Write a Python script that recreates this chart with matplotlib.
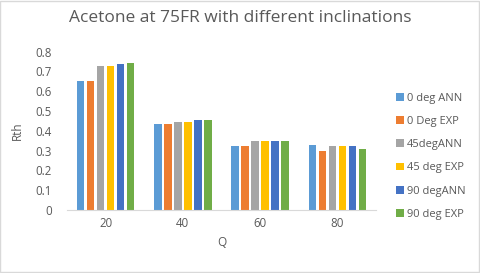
import numpy as np
import matplotlib
matplotlib.use('Agg')
import matplotlib.pyplot as plt
from matplotlib.patches import Rectangle

plt.rcParams['font.family'] = ['Open Sans', 'DejaVu Sans']

CATEGORIES = ['20', '40', '60', '80']
SERIES = ['0 deg ANN', '0 Deg EXP', '45degANN', '45 deg EXP', '90 degANN', '90 deg EXP']
VAL_0_ANN  = [0.652, 0.436, 0.323, 0.327]
VAL_0_EXP  = [0.652, 0.436, 0.323, 0.300]
VAL_45_ANN = [0.728, 0.446, 0.349, 0.323]
VAL_45_EXP = [0.727, 0.446, 0.349, 0.323]
VAL_90_ANN = [0.738, 0.455, 0.349, 0.323]
VAL_90_EXP = [0.741, 0.455, 0.349, 0.307]
COLORS = ['#5B9BD5', '#ED7D31', '#A5A5A5', '#FFC000', '#4472C4', '#70AD47']
TEXT = '#595959'

values = [VAL_0_ANN, VAL_0_EXP, VAL_45_ANN, VAL_45_EXP, VAL_90_ANN, VAL_90_EXP]

fig = plt.figure(figsize=(4.8, 2.73), dpi=100)
fig.patches.append(Rectangle((0.001, 0.002), 0.997, 0.995, transform=fig.transFigure,
                             fill=False, edgecolor='#D9D9D9', linewidth=1))
ax = fig.add_axes([67 / 480, 1 - 210 / 273, 309 / 480, 158.3 / 273])

x = np.arange(len(CATEGORIES))
pitch, width = 0.13, 0.097
for i, (name, vals, c) in enumerate(zip(SERIES, values, COLORS)):
    ax.bar(x + (i - 2.5) * pitch, vals, width, color=c, label=name)

ax.set_xlim(-0.5, len(CATEGORIES) - 0.5)
ax.set_ylim(0, 0.8)
ax.set_yticks(np.arange(0, 0.81, 0.1))
ax.set_yticklabels(['0' if v == 0 else f'{v:.1f}' for v in np.arange(0, 0.81, 0.1)])
ax.set_xticks(x)
ax.set_xticklabels(CATEGORIES)
ax.tick_params(length=0, labelsize=8.3, colors=TEXT, pad=5)
ax.tick_params(axis='y', pad=11)
for s in ['top', 'right', 'left']:
    ax.spines[s].set_visible(False)
ax.spines['bottom'].set_color('#D9D9D9')

ax.set_xlabel('Q', fontsize=8.5, color=TEXT, labelpad=4)
ax.set_ylabel('Rth', fontsize=8.5, color=TEXT, labelpad=8)
fig.text(0.5, 1 - 18 / 273, 'Acetone at 75FR with different inclinations',
         ha='center', va='center', fontsize=12.5, color=TEXT)

# legend sits lower than the plot centre, as in the source chart
leg = ax.legend(loc='center left', bbox_to_anchor=(1.05, 0.34), frameon=False,
                fontsize=8, labelcolor=TEXT, handlelength=0.7, handleheight=0.7,
                handletextpad=0.3, labelspacing=1.1, borderaxespad=0)

fig.savefig('out.png', dpi=100)
